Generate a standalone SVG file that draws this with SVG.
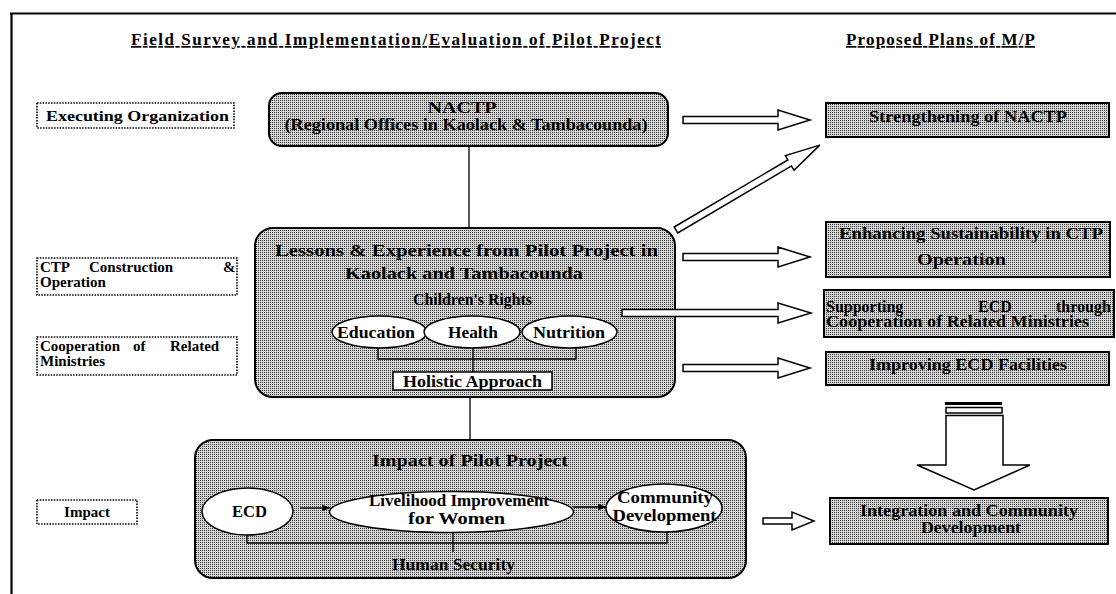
<svg xmlns="http://www.w3.org/2000/svg" width="1116" height="594" viewBox="0 0 1116 594">
  <defs>
    <!-- halftone grey used for the shaded boxes -->
    <pattern id="halftone" width="2" height="2" patternUnits="userSpaceOnUse">
      <rect width="2" height="2" fill="#d4d4d4"/>
      <rect width="1" height="1" fill="#3a3a3a"/>
    </pattern>
    <marker id="tip" markerWidth="9" markerHeight="8" refX="8.5" refY="4" orient="auto" markerUnits="userSpaceOnUse">
      <path d="M0,0.5 L9,4 L0,7.5 Z" fill="#000"/>
    </marker>
  </defs>
  <style>
    text { font-family: "Liberation Serif", "DejaVu Serif", serif; font-weight: bold; fill: #000; font-size: 16px; }
    .head { font-size: 17px; text-decoration: underline; }
    .side { font-size: 15px; }
    .dotbox { fill: #fff; stroke: #000; stroke-width: 1.6; stroke-dasharray: 1.5 1.3; }
    .shade { fill: url(#halftone); stroke: #000; stroke-width: 2; }
    .oval { fill: #fff; stroke: #000; stroke-width: 1.5; }
    .plain { fill: #fff; stroke: #000; stroke-width: 1.5; }
    .hollow { fill: #fff; stroke: #000; stroke-width: 1.5; stroke-linejoin: miter; }
    .ln { fill: none; stroke: #000; stroke-width: 1.3; }
    .mid { text-anchor: middle; }
  </style>

  <!-- page frame -->
  <path d="M10 13.5 H1116 M11.5 13 V594" fill="none" stroke="#000" stroke-width="2.2"/>

  <!-- column headings -->
  <text class="head" x="131" y="45" textLength="530">Field Survey and Implementation/Evaluation of Pilot Project</text>
  <text class="head" x="846" y="45" textLength="189">Proposed Plans of M/P</text>

  <!-- row labels -->
  <g id="label-executing">
    <rect class="dotbox" x="37" y="103" width="197" height="25"/>
    <text class="side" x="46" y="121" textLength="183" lengthAdjust="spacingAndGlyphs">Executing Organization</text>
  </g>
  <g id="label-ctp">
    <rect class="dotbox" x="37" y="258" width="200" height="37"/>
    <text class="side" y="272"><tspan x="40">CTP</tspan><tspan x="89">Construction</tspan><tspan x="223">&amp;</tspan></text>
    <text class="side" x="40" y="287">Operation</text>
  </g>
  <g id="label-cooperation">
    <rect class="dotbox" x="37" y="337" width="200" height="38"/>
    <text class="side" y="351"><tspan x="40">Cooperation</tspan><tspan x="133">of</tspan><tspan x="170">Related</tspan></text>
    <text class="side" x="40" y="366">Ministries</text>
  </g>
  <g id="label-impact">
    <rect class="dotbox" x="37" y="500" width="100" height="24"/>
    <text class="side mid" x="87" y="517">Impact</text>
  </g>

  <!-- executing organization -->
  <g id="nactp">
    <rect class="shade" x="269" y="93" width="399" height="53" rx="13"/>
    <text class="mid" x="462" y="113" textLength="69" lengthAdjust="spacingAndGlyphs">NACTP</text>
    <text class="mid" x="466" y="130" textLength="363" lengthAdjust="spacingAndGlyphs">(Regional Offices in Kaolack &amp; Tambacounda)</text>
  </g>

  <!-- lessons from the pilot project -->
  <g id="lessons">
    <rect class="shade" x="255" y="228" width="420" height="169" rx="18"/>
    <text class="mid" x="466.5" y="256" textLength="383" lengthAdjust="spacingAndGlyphs">Lessons &amp; Experience from Pilot Project in</text>
    <text class="mid" x="464" y="279" textLength="238" lengthAdjust="spacingAndGlyphs">Kaolack and Tambacounda</text>
    <text class="mid" x="472.5" y="305" textLength="119" lengthAdjust="spacingAndGlyphs">Children's Rights</text>
  </g>
  <g id="education">
    <ellipse class="oval" cx="379.5" cy="332" rx="47.5" ry="16"/>
    <text class="mid" x="376" y="338" textLength="78" lengthAdjust="spacingAndGlyphs">Education</text>
  </g>
  <g id="health">
    <ellipse class="oval" cx="472" cy="332" rx="48" ry="16"/>
    <text class="mid" x="473" y="338" textLength="50" lengthAdjust="spacingAndGlyphs">Health</text>
  </g>
  <g id="nutrition">
    <ellipse class="oval" cx="569.5" cy="332" rx="47.5" ry="16"/>
    <text class="mid" x="569" y="338" textLength="72" lengthAdjust="spacingAndGlyphs">Nutrition</text>
  </g>
  <g id="holistic">
    <rect class="plain" x="393" y="372" width="159" height="18"/>
    <text class="mid" x="472.5" y="386.5" textLength="139" lengthAdjust="spacingAndGlyphs">Holistic Approach</text>
  </g>

  <!-- impact of the pilot project -->
  <g id="impact">
    <rect class="shade" x="195" y="440" width="551" height="138" rx="18"/>
    <text class="mid" x="470" y="466" textLength="196" lengthAdjust="spacingAndGlyphs">Impact of Pilot Project</text>
    <text class="mid" x="453.5" y="570" textLength="123" lengthAdjust="spacingAndGlyphs">Human Security</text>
  </g>
  <g id="ecd">
    <ellipse class="oval" cx="247.5" cy="511.5" rx="45.5" ry="23.5"/>
    <text class="mid" x="249.5" y="517" textLength="35" lengthAdjust="spacingAndGlyphs">ECD</text>
  </g>
  <g id="livelihood">
    <ellipse class="oval" cx="451.5" cy="512" rx="122" ry="20.5"/>
    <text class="mid" x="459" y="506" textLength="180" lengthAdjust="spacingAndGlyphs">Livelihood Improvement</text>
    <text class="mid" x="456.5" y="524" textLength="97" lengthAdjust="spacingAndGlyphs">for Women</text>
  </g>
  <g id="community">
    <ellipse class="oval" cx="664" cy="508" rx="58" ry="24"/>
    <text class="mid" x="665" y="503" textLength="96" lengthAdjust="spacingAndGlyphs">Community</text>
    <text class="mid" x="664.5" y="521" textLength="104" lengthAdjust="spacingAndGlyphs">Development</text>
  </g>

  <!-- proposed plans -->
  <g id="plan-nactp">
    <rect class="shade" x="826" y="103" width="283" height="34"/>
    <text class="mid" x="968" y="122" textLength="198" lengthAdjust="spacingAndGlyphs">Strengthening of NACTP</text>
  </g>
  <g id="plan-sustainability">
    <rect class="shade" x="826" y="222" width="284" height="55"/>
    <text class="mid" x="971" y="239" textLength="264" lengthAdjust="spacingAndGlyphs">Enhancing Sustainability in CTP</text>
    <text class="mid" x="961.5" y="265" textLength="89" lengthAdjust="spacingAndGlyphs">Operation</text>
  </g>
  <g id="plan-ecd-support">
    <rect class="shade" x="824" y="290" width="290" height="47"/>
    <text y="312"><tspan x="826">Supporting</tspan><tspan x="978">ECD</tspan><tspan x="1056">through</tspan></text>
    <text x="826" y="327" textLength="263" lengthAdjust="spacingAndGlyphs">Cooperation of Related Ministries</text>
  </g>
  <g id="plan-facilities">
    <rect class="shade" x="826" y="352" width="283" height="33"/>
    <text class="mid" x="968" y="370" textLength="198" lengthAdjust="spacingAndGlyphs">Improving ECD Facilities</text>
  </g>
  <g id="plan-integration">
    <rect class="shade" x="830" y="498" width="278" height="46"/>
    <text class="mid" x="969" y="516" textLength="218" lengthAdjust="spacingAndGlyphs">Integration and Community</text>
    <text class="mid" x="971" y="533" textLength="100" lengthAdjust="spacingAndGlyphs">Development</text>
  </g>

  <!-- connectors -->
  <g id="connectors">
    <!-- vertical links between the three main boxes -->
    <path class="ln" d="M469 146 V228 M470 397 V440"/>

    <!-- bracket: children's rights to holistic approach -->
    <path class="ln" d="M378 348 V359 H576 V348 M473 348 V372"/>

    <!-- bracket: impact chain to human security -->
    <path class="ln" d="M247 535 V543 H667 V532 M453 532.5 V552"/>

    <!-- chain arrows inside the impact box -->
    <path class="ln" d="M300 508 H330" marker-end="url(#tip)"/>
    <path class="ln" d="M573 507 H606" marker-end="url(#tip)"/>

    <!-- hollow arrows towards the proposed plans -->
    <path class="hollow" d="M683 116.5 H778 V110 L810 120 L778 130 V123.5 H683 Z"/>
    <path class="hollow" d="M683 253.5 H778 V247 L810 257 L778 267 V260.5 H683 Z"/>
    <path class="hollow" d="M622 309.5 H778 V303 L811 313 L778 323 V316.5 H622 Z"/>
    <path class="hollow" d="M683 364.5 H778 V358 L810 368 L778 378 V371.5 H683 Z"/>
    <path class="hollow" d="M763 518 H792 V512 L814 521 L792 530 V524 H763 Z"/>

    <!-- diagonal arrow from lessons to strengthening -->
    <path class="hollow" transform="translate(676 230) rotate(-30.55)" d="M0 -3.5 H132 V-8.5 L167 0 L132 8.5 V3.5 H0 Z"/>

    <!-- broad arrow down to integration -->
    <rect x="945" y="402" width="57" height="3" fill="#000"/>
    <rect class="plain" x="946" y="407.5" width="56" height="5.5"/>
    <path class="hollow" d="M946 415.5 H1003 V465 H1030 L974 490 L917 465 H946 Z"/>
  </g>
</svg>
